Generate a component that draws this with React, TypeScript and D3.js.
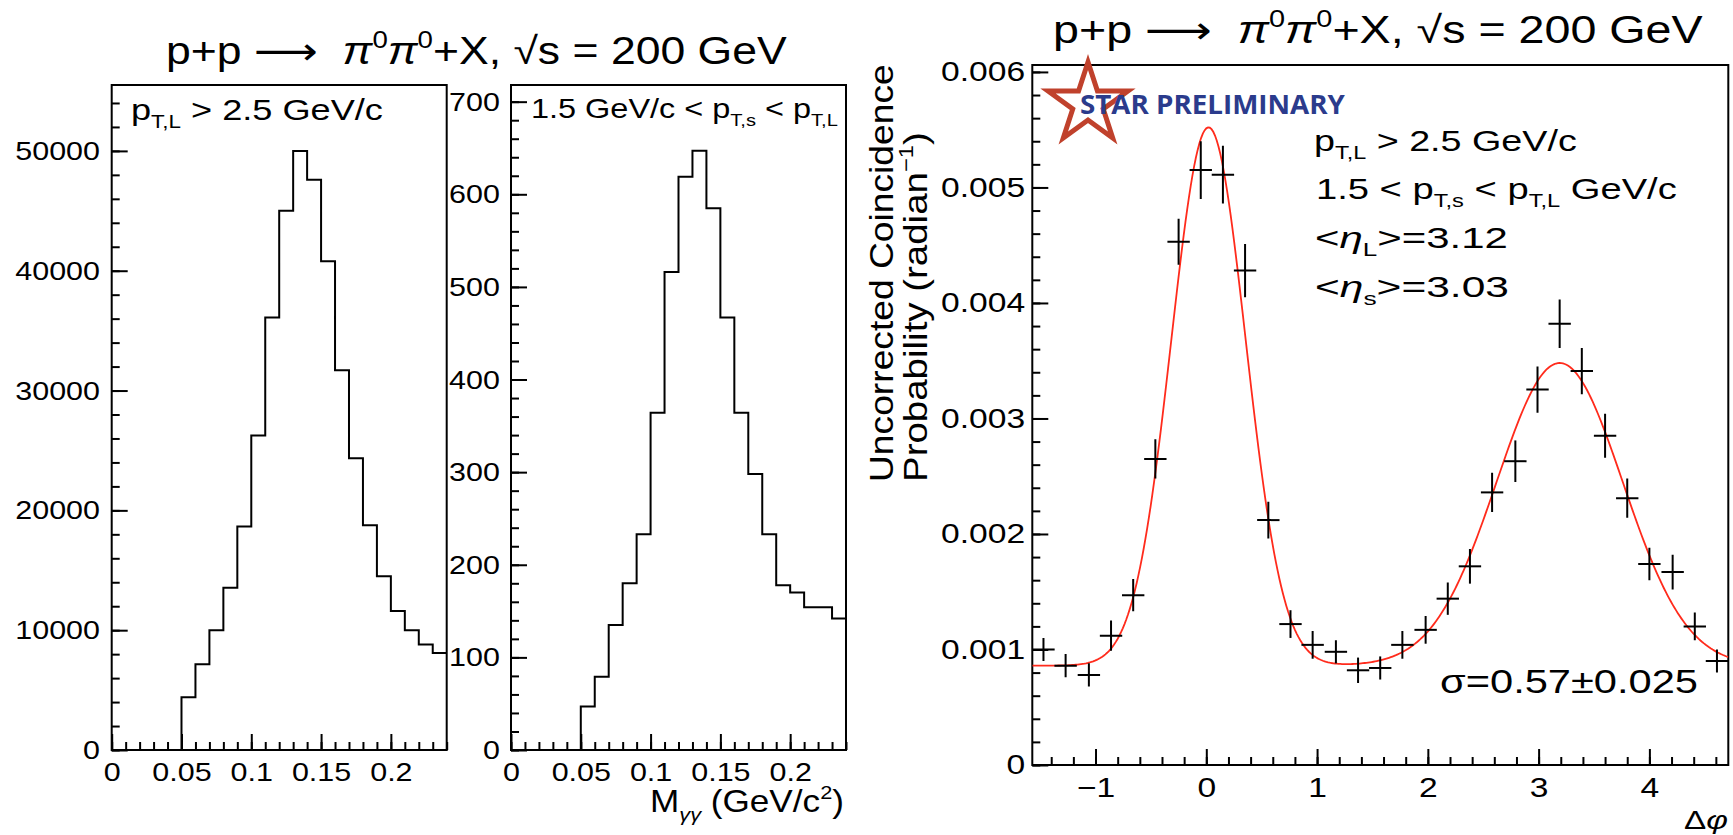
import * as d3 from 'd3';
import React, { useEffect, useRef } from 'react';

// invariant mass bins (low edges, GeV/c^2), each 0.01 wide, up to 0.24
const massBinLow = [0, 0.01, 0.02, 0.03, 0.04, 0.05, 0.06, 0.07, 0.08, 0.09, 0.1, 0.11, 0.12, 0.13, 0.14, 0.15, 0.16, 0.17, 0.18, 0.19, 0.2, 0.21, 0.22, 0.23];
const massMax = 0.24;

// leading pi0 candidates, pT,L > 2.5 GeV/c
const countsLeading = [0, 0, 0, 0, 0, 4400, 7150, 10000, 13550, 18650, 26250, 36100, 45000, 50000, 47600, 40800, 31700, 24350, 18750, 14500, 11600, 10000, 8800, 8100];
// sub-leading pi0 candidates, 1.5 GeV/c < pT,s < pT,L
const countsSubleading = [0, 0, 0, 0, 0, 47, 79, 135, 180, 233, 364, 516, 619, 647, 585, 467, 364, 298, 233, 178, 170, 154, 154, 142];

const massTicks = [0, 0.05, 0.1, 0.15, 0.2];
const massTickLabels = ['0', '0.05', '0.1', '0.15', '0.2'];
const leadTicks = [0, 10000, 20000, 30000, 40000, 50000];
const subTicks = [0, 100, 200, 300, 400, 500, 600, 700];

// azimuthal correlation
const dphiCenters = [-1.47, -1.27, -1.06, -0.86, -0.66, -0.46, -0.25, -0.05, 0.15, 0.35, 0.56, 0.76, 0.96, 1.17, 1.37, 1.57, 1.77, 1.98, 2.18, 2.38, 2.58, 2.79, 2.99, 3.19, 3.39, 3.6, 3.8, 4.0, 4.21, 4.41, 4.61];
const dphiHalfWidth = 0.101;
const coincProb = [0.001, 0.00086, 0.00078, 0.00112, 0.00147, 0.00265, 0.00453, 0.00515, 0.00511, 0.00428, 0.00212, 0.00122, 0.00104, 0.00098, 0.00082, 0.00084, 0.00104, 0.00117, 0.00144, 0.00172, 0.00236, 0.00263, 0.00325, 0.00382, 0.00341, 0.00285, 0.00231, 0.00174, 0.00167, 0.0012, 0.0009];
const coincErr = [0.0001, 0.0001, 0.0001, 0.00013, 0.00014, 0.00017, 0.0002, 0.00025, 0.00025, 0.00023, 0.00016, 0.00012, 0.00012, 0.0001, 0.00011, 0.0001, 0.00012, 0.00012, 0.00014, 0.00015, 0.00017, 0.00018, 0.0002, 0.00021, 0.0002, 0.00019, 0.00017, 0.00014, 0.00015, 0.00012, 0.0001];

const dphiTicks = [-1, 0, 1, 2, 3, 4];
const dphiTickLabels = ['\u22121', '0', '1', '2', '3', '4'];
const probTicks = [0, 0.001, 0.002, 0.003, 0.004, 0.005, 0.006];
const probTickLabels = ['0', '0.001', '0.002', '0.003', '0.004', '0.005', '0.006'];

// gaussian + gaussian + pedestal fit
const fitPedestal = 0.00086;
const nearAmp = 0.00466;
const nearMean = 0.02;
const nearSigma = 0.335;
const awayAmp = 0.00262;
const awayMean = 3.19;
const awaySigma = 0.57;

const W = 1733;
const H = 835;
const font = '"Liberation Sans", Arial, "DejaVu Sans", sans-serif';

const App = () => {
  const svgRef = useRef(null);

  useEffect(() => {
    const svg = d3.select(svgRef.current);
    svg.selectAll('*').remove();
    svg.append('rect').attr('width', W).attr('height', H).attr('fill', '#fff');

    // text with sub/superscripts, stretched to a given width
    const rich = (parent, parts, o) => {
      const g = parent.append('g');
      const t = g
        .append('text')
        .attr('font-family', o.family || font)
        .attr('font-size', o.size)
        .attr('font-weight', o.weight || 'normal')
        .attr('fill', o.fill || '#000')
        .style('white-space', 'pre');
      let shift = 0;
      parts.forEach((p) => {
        const target = p.sub ? 0.28 * o.size : p.sup ? -0.42 * o.size : 0;
        const ts = t.append('tspan').text(p.t).attr('dy', target - shift);
        if (p.sub || p.sup) ts.attr('font-size', o.size * 0.62);
        if (p.it) ts.attr('font-style', 'italic');
        if (p.fam) ts.attr('font-family', p.fam);
        shift = target;
      });
      const w = t.node().getComputedTextLength();
      const sx = o.width ? o.width / w : 1;
      const ww = w * sx;
      const dx = o.anchor === 'end' ? -ww : o.anchor === 'middle' ? -ww / 2 : 0;
      g.attr('transform', `translate(${o.x},${o.y}) rotate(${o.rotate || 0}) translate(${dx},0) scale(${sx},1)`);
      return g;
    };

    const styleAxis = (ag, size, sx) => {
      ag.select('.domain').remove();
      ag.selectAll('line').attr('stroke', '#000').attr('stroke-width', 2);
      ag.selectAll('text')
        .attr('font-family', font)
        .attr('font-size', size)
        .attr('fill', '#000')
        .attr('transform', `scale(${sx},1)`);
    };

    const frame = (x, y, cfg) => {
      const g = svg.append('g');
      const [x0, x1] = x.range();
      const [yb, yt] = y.range();
      // minor ticks
      g.append('g')
        .attr('transform', `translate(0,${yb})`)
        .call(d3.axisBottom(x).tickValues(cfg.xMinor).tickSizeInner(-8).tickSizeOuter(0).tickFormat(() => ''))
        .call((a) => styleAxis(a, cfg.labelSize, cfg.sx));
      g.append('g')
        .attr('transform', `translate(${x0},0)`)
        .call(d3.axisLeft(y).tickValues(cfg.yMinor).tickSizeInner(-8).tickSizeOuter(0).tickFormat(() => ''))
        .call((a) => styleAxis(a, cfg.labelSize, cfg.sx));
      // major ticks + labels
      g.append('g')
        .attr('transform', `translate(0,${yb})`)
        .call(
          d3.axisBottom(x).tickValues(cfg.xTicks).tickSizeInner(-16).tickSizeOuter(0).tickPadding(12)
            .tickFormat((d, i) => cfg.xLabels[i])
        )
        .call((a) => styleAxis(a, cfg.labelSize, cfg.sx));
      g.append('g')
        .attr('transform', `translate(${x0},0)`)
        .call(
          d3.axisLeft(y).tickValues(cfg.yTicks).tickSizeInner(-16).tickSizeOuter(0).tickPadding(cfg.yPad)
            .tickFormat((d, i) => cfg.yLabels[i])
        )
        .call((a) => styleAxis(a, cfg.labelSize, cfg.sx));
      g.append('rect')
        .attr('x', x0)
        .attr('y', yt)
        .attr('width', x1 - x0)
        .attr('height', yb - yt)
        .attr('fill', 'none')
        .attr('stroke', '#000')
        .attr('stroke-width', 2);
      return g;
    };

    const massMinor = d3.range(0, 0.2405, 0.01);

    // ---------- left: leading pi0 mass
    const x1s = d3.scaleLinear().domain([0, massMax]).range([111.7, 446.7]);
    const y1s = d3.scaleLinear().domain([0, 55500]).range([750, 85]);
    frame(x1s, y1s, {
      xTicks: massTicks, xLabels: massTickLabels, xMinor: massMinor,
      yTicks: leadTicks, yLabels: leadTicks.map(String), yMinor: d3.range(0, 55000, 2000),
      labelSize: 26.5, sx: 1.15, yPad: 10.2,
    });
    const histLine = (x, y) =>
      d3.line().x((d) => x(d[0])).y((d) => y(d[1])).curve(d3.curveStepAfter);
    const histPts = (counts) => {
      const p = massBinLow.map((b, i) => [b, counts[i]]);
      p.push([massMax, counts[counts.length - 1]]);
      return p;
    };
    svg.append('path')
      .attr('d', histLine(x1s, y1s)(histPts(countsLeading)))
      .attr('fill', 'none').attr('stroke', '#000').attr('stroke-width', 2);

    // ---------- middle: sub-leading pi0 mass
    const x2s = d3.scaleLinear().domain([0, massMax]).range([511, 846]);
    const y2s = d3.scaleLinear().domain([0, 718]).range([750, 85]);
    frame(x2s, y2s, {
      xTicks: massTicks, xLabels: massTickLabels, xMinor: massMinor,
      yTicks: subTicks, yLabels: subTicks.map(String), yMinor: d3.range(0, 710, 20),
      labelSize: 26.5, sx: 1.15, yPad: 9.6,
    });
    svg.append('path')
      .attr('d', histLine(x2s, y2s)(histPts(countsSubleading)))
      .attr('fill', 'none').attr('stroke', '#000').attr('stroke-width', 2);

    // ---------- right: delta phi
    const x3s = d3.scaleLinear().domain([-Math.PI / 2, (3 * Math.PI) / 2]).range([1032.3, 1728.3]);
    const y3s = d3.scaleLinear().domain([0, 0.00606]).range([765, 65]);
    frame(x3s, y3s, {
      xTicks: dphiTicks, xLabels: dphiTickLabels, xMinor: d3.range(-1.4, 4.65, 0.2),
      yTicks: probTicks, yLabels: probTickLabels, yMinor: d3.range(0, 0.00605, 0.0002),
      labelSize: 28, sx: 1.2, yPad: 6,
    });

    svg.append('clipPath').attr('id', 'clip3')
      .append('rect').attr('x', 1032.3).attr('y', 65).attr('width', 696).attr('height', 700);

    // STAR logo
    const starR = 42;
    const starPts = d3.range(10).map((i) => {
      const a = -Math.PI / 2 + (i * Math.PI) / 5;
      const r = i % 2 === 0 ? starR : starR * 0.382;
      return [1088 + r * Math.cos(a), 104 + r * Math.sin(a)];
    });
    svg.append('polygon')
      .attr('points', starPts.map((p) => p.join(',')).join(' '))
      .attr('fill', 'none').attr('stroke', '#c0412c').attr('stroke-width', 5);
    rich(svg, [{ t: 'STAR PRELIMINARY' }], {
      x: 1080, y: 114, size: 27, width: 265, weight: 700, fill: '#2b3b8c', family: '"Open Sans", "DejaVu Sans", sans-serif',
    });

    const fitFn = (phi) =>
      fitPedestal +
      nearAmp * Math.exp(-((phi - nearMean) ** 2) / (2 * nearSigma ** 2)) +
      awayAmp * Math.exp(-((phi - awayMean) ** 2) / (2 * awaySigma ** 2));
    const [p0, p1] = x3s.domain();
    const phis = d3.range(0, 401).map((i) => p0 + ((p1 - p0) * i) / 400);
    svg.append('path')
      .attr('clip-path', 'url(#clip3)')
      .attr('d', d3.line().x((d) => x3s(d)).y((d) => y3s(fitFn(d)))(phis))
      .attr('fill', 'none').attr('stroke', '#ff2b1c').attr('stroke-width', 1.8);

    const pts = dphiCenters.map((c, i) => ({ c, v: coincProb[i], e: coincErr[i] }));
    const gp = svg.append('g').attr('clip-path', 'url(#clip3)').attr('stroke', '#000').attr('stroke-width', 2);
    gp.selectAll('.eh').data(pts).join('line').attr('class', 'eh')
      .attr('x1', (d) => x3s(d.c - dphiHalfWidth)).attr('x2', (d) => x3s(d.c + dphiHalfWidth))
      .attr('y1', (d) => y3s(d.v)).attr('y2', (d) => y3s(d.v));
    gp.selectAll('.ev').data(pts).join('line').attr('class', 'ev')
      .attr('x1', (d) => x3s(d.c)).attr('x2', (d) => x3s(d.c))
      .attr('y1', (d) => y3s(d.v - d.e)).attr('y2', (d) => y3s(d.v + d.e));

    // ---------- titles and labels
    const title = [
      { t: 'p+p ' }, { t: '\u27f6', fam: '"DejaVu Sans", sans-serif' }, { t: '  ' }, { t: '\u03c0', it: true },
      { t: '0', sup: true }, { t: '\u03c0', it: true }, { t: '0', sup: true }, { t: '+X, \u221as = 200 GeV' },
    ];
    rich(svg, title, { x: 166, y: 64, size: 38, width: 621 });
    rich(svg, title, { x: 1053, y: 43, size: 38, width: 650 });

    rich(svg, [{ t: 'p' }, { t: 'T,L', sub: true }, { t: ' > 2.5 GeV/c' }], { x: 131, y: 120, size: 29, width: 252 });
    rich(svg, [{ t: '1.5 GeV/c < p' }, { t: 'T,s', sub: true }, { t: ' < p' }, { t: 'T,L', sub: true }], {
      x: 531, y: 118, size: 28, width: 307,
    });
    rich(svg, [{ t: 'M' }, { t: '\u03b3\u03b3', sub: true, it: true }, { t: ' (GeV/c' }, { t: '2', sup: true }, { t: ')' }], {
      x: 844, y: 812, size: 31, width: 194, anchor: 'end',
    });

    rich(svg, [{ t: 'Uncorrected Coincidence' }], { x: 893, y: 482, size: 33, width: 418, rotate: -90 });
    rich(svg, [{ t: 'Probability (radian' }, { t: '\u22121', sup: true }, { t: ')' }], {
      x: 927, y: 482, size: 33, width: 350, rotate: -90,
    });

    rich(svg, [{ t: '\u0394' }, { t: '\u03c6', it: true }], { x: 1728, y: 829, size: 25, width: 44, anchor: 'end' });

    rich(svg, [{ t: 'p' }, { t: 'T,L', sub: true }, { t: ' > 2.5 GeV/c' }], { x: 1314, y: 151, size: 29, width: 263 });
    rich(svg, [{ t: '1.5 < p' }, { t: 'T,s', sub: true }, { t: ' < p' }, { t: 'T,L', sub: true }, { t: ' GeV/c' }], {
      x: 1316, y: 199, size: 29, width: 361,
    });
    rich(svg, [{ t: '<' }, { t: '\u03b7', it: true }, { t: 'L', sub: true }, { t: '>=3.12' }], { x: 1315, y: 248, size: 29, width: 193 });
    rich(svg, [{ t: '<' }, { t: '\u03b7', it: true }, { t: 's', sub: true }, { t: '>=3.03' }], { x: 1315, y: 297, size: 29, width: 194 });
    rich(svg, [{ t: '\u03c3=0.57\u00b10.025' }], { x: 1440, y: 693, size: 34, width: 258 });
  }, []);

  return (
    <svg
      ref={svgRef}
      width={W}
      height={H}
      style={{ position: 'absolute', left: 0, top: 0, display: 'block' }}
    />
  );
};

export default App;
